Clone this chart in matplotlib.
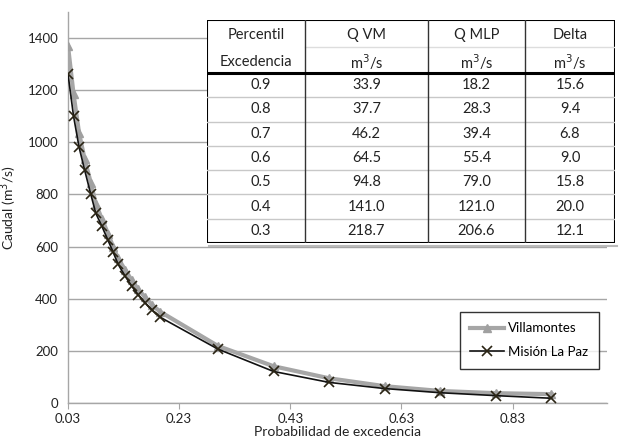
import matplotlib
matplotlib.use("Agg")
import matplotlib.pyplot as plt
from matplotlib.patches import Rectangle

plt.rcParams['font.family'] = ['Lato', 'DejaVu Sans']

# ---- data ----
prob = [0.03, 0.040, 0.050, 0.060, 0.071, 0.080, 0.091, 0.102, 0.111, 0.120,
        0.133, 0.145, 0.156, 0.169, 0.181, 0.196,
        0.3, 0.4, 0.5, 0.6, 0.7, 0.8, 0.9]
q_vm = [1370, 1185, 1035, 935, 845, 765, 705, 650, 600, 555,
        510, 470, 437, 405, 377, 350,
        218.7, 141.0, 94.8, 64.5, 46.2, 37.7, 33.9]
q_mlp = [1262, 1100, 981, 893, 801, 728, 678, 624, 580, 533,
         486, 447, 416, 384, 357, 329,
         206.6, 121.0, 79.0, 55.4, 39.4, 28.3, 18.2]

xticks = [0.03, 0.23, 0.43, 0.63, 0.83]
yticks = [0, 200, 400, 600, 800, 1000, 1200, 1400]

tab_header1 = ["Percentil", "Q VM", "Q MLP", "Delta"]
tab_header2 = ["Excedencia", "m$^{3}$/s", "m$^{3}$/s", "m$^{3}$/s"]
tab_perc = ["0.9", "0.8", "0.7", "0.6", "0.5", "0.4", "0.3"]
tab_qvm = ["33.9", "37.7", "46.2", "64.5", "94.8", "141.0", "218.7"]
tab_qmlp = ["18.2", "28.3", "39.4", "55.4", "79.0", "121.0", "206.6"]
tab_delta = ["15.6", "9.4", "6.8", "9.0", "15.8", "20.0", "12.1"]

W, H = 620, 447
fig = plt.figure(figsize=(6.2, 4.47), dpi=100)
ax = fig.add_axes([68 / W, (H - 403) / H, (607 - 68) / W, (403 - 12) / H])

ax.plot(prob, q_vm, color='#a6a6a6', lw=3, marker='^', ms=6,
        markerfacecolor='#a0a0a0', markeredgecolor='#a0a0a0', label='Villamontes', zorder=3)
ax.plot(prob, q_mlp, color='#111111', lw=1.2, marker='x', ms=7.5, mew=1.2,
        markeredgecolor='#2a2414', label='Misión La Paz', zorder=4)

ax.set_xlim(0.03, 1.0)
ax.set_ylim(0, 1500)
ax.set_xticks(xticks)
ax.set_xticklabels([f"{t:.2f}" for t in xticks])
ax.set_yticks(yticks)
ax.grid(axis='y', color='#a6a6a6', lw=1)
ax.set_axisbelow(True)
for s in ['top', 'right']:
    ax.spines[s].set_visible(False)
for s in ['left', 'bottom']:
    ax.spines[s].set_color('#a6a6a6')
    ax.spines[s].set_linewidth(1)
ax.tick_params(axis='y', length=0, labelsize=9.5, colors='#222222', pad=7)
ax.tick_params(axis='x', length=4, color='#a6a6a6', labelsize=9.5, labelcolor='#222222', pad=3)
ax.set_xlabel("Probabilidad de excedencia", fontsize=10, color='#222222', labelpad=1)
ax.set_ylabel("Caudal (m$^{3}$/s)", fontsize=10, color='#222222', labelpad=6)

leg = ax.legend(loc='upper left', bbox_to_anchor=((453 - 68) / 539, (403 - 305) / 391),
                frameon=True, fancybox=False, edgecolor='black', fontsize=9.5,
                handlelength=2.6, labelspacing=0.9, borderpad=0.8, handletextpad=0.3)
leg.get_frame().set_linewidth(1)

# ---- table ----
tl, tt, tr, tb = 207, 20, 615, 243
tax = fig.add_axes([tl / W, (H - tb) / H, (tr - tl) / W, (tb - tt) / H], zorder=5)
tax.set_xlim(0, tr - tl)
tax.set_ylim(tb - tt, 0)
tax.axis('off')
tw, th = tr - tl, tb - tt
tax.add_patch(Rectangle((0, 0), tw, th, facecolor='white', edgecolor='none'))
cols = [0, 98, 221, 318, tw]
hdr = 53
rowh = (th - hdr) / len(tab_perc)
# light separators
tax.plot([cols[1], tw], [27, 27], color='#dddddd', lw=1)
for i in range(1, len(tab_perc)):
    y = hdr + i * rowh
    tax.plot([0, tw], [y, y], color='#c8c8c8', lw=1)
for c in cols[1:-1]:
    tax.plot([c, c], [0, th], color='#333333', lw=1)
tax.plot([0, tw], [hdr, hdr], color='black', lw=2.2)
tax.add_patch(Rectangle((0, 0), tw, th, facecolor='none', edgecolor='black', lw=1.5))
tax.plot([2, tw + 2], [th + 3, th + 3], color='#bbbbbb', lw=1.5, clip_on=False)

centers = [(cols[i] + cols[i + 1]) / 2 for i in range(4)]
fs = 10.5
for j in range(4):
    tax.text(centers[j], 15, tab_header1[j], ha='center', va='center', fontsize=fs, color='#222222')
    tax.text(centers[j], 42, tab_header2[j], ha='center', va='center', fontsize=fs, color='#222222')
for i in range(len(tab_perc)):
    y = hdr + (i + 0.5) * rowh
    for j, col in enumerate([tab_perc, tab_qvm, tab_qmlp, tab_delta]):
        tax.text(centers[j] + (5 if j == 0 else 0), y, col[i], ha='center', va='center',
                 fontsize=fs, color='#222222')

fig.savefig("out.png", dpi=100)
